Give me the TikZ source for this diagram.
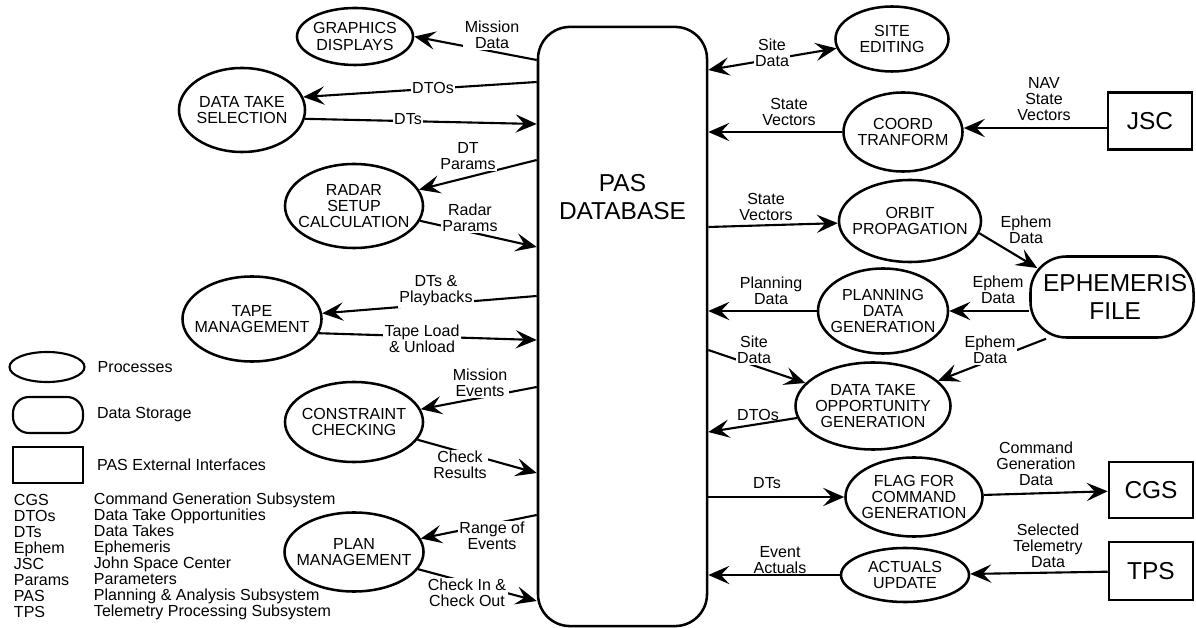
\documentclass[tikz,border=0pt]{standalone}
\usepackage{fontspec}
\setmainfont{Liberation Sans}
\usetikzlibrary{arrows.meta,positioning,shapes.geometric}
\newcommand{\lblfont}{\fontsize{11.4}{11.4}\selectfont}
\newcommand{\bigtxt}{\fontsize{17.4}{20}\selectfont}

\begin{document}
\begin{tikzpicture}[
    x=0.025cm, y=-0.025cm,
    font=\lblfont,
    proc/.style={draw, ellipse, line width=1.8pt, inner sep=0pt},
    ptext/.style={align=center, inner sep=0pt},
    store/.style={draw, line width=1.8pt, font=\bigtxt, align=center},
    ext/.style={draw, line width=1.8pt, font=\bigtxt, minimum width=2.1cm, minimum height=1.425cm},
    lbl/.style={align=center, inner sep=1pt},
    lblgap/.style={lbl, fill=white},
    arrow/.style={-{Stealth[length=15pt, width=13pt, inset=6pt]}, line width=1.5pt},
    darrow/.style={{Stealth[length=15pt, width=13pt, inset=6pt]}-{Stealth[length=15pt, width=13pt, inset=6pt]}, line width=1.5pt}
]

\useasboundingbox (0,0) rectangle (1196,628);

% database in the middle
\node[store, rounded corners=0.8cm, minimum width=4.225cm, minimum height=14.975cm] (pas) at (622.5,326.5) {};
\node[font=\bigtxt, align=center] (pastxt) at (622.5,197) {PAS\\DATABASE};

% processes on the left
\node[proc, minimum width=2.9cm, minimum height=1.425cm, label={[ptext]center:GRAPHICS\\DISPLAYS}] (gd) at (355,36.5) {};
\node[proc, minimum width=3.15cm, minimum height=2.1cm, label={[ptext]center:DATA TAKE\\SELECTION}] (dts) at (242,110) {};
\node[proc, minimum width=3.45cm, minimum height=2.1cm, label={[ptext]center:RADAR\\SETUP\\CALCULATION}] (rsc) at (354,206) {};
\node[proc, minimum width=3.475cm, minimum height=2.125cm, label={[ptext]center:TAPE\\MANAGEMENT}] (tm) at (252,319) {};
\node[proc, minimum width=3.45cm, minimum height=2.0cm, label={[ptext]center:CONSTRAINT\\CHECKING}] (cc) at (354,422) {};
\node[proc, minimum width=3.475cm, minimum height=1.975cm, label={[ptext]center:PLAN\\MANAGEMENT}] (pm) at (354,552) {};

% processes on the right
\node[proc, minimum width=2.825cm, minimum height=1.625cm, label={[ptext]center:SITE\\EDITING}] (se) at (892,39) {};
\node[proc, minimum width=2.975cm, minimum height=1.975cm, label={[ptext]center:COORD\\TRANFORM}] (ct) at (903,132) {};
\node[proc, minimum width=3.55cm, minimum height=2.05cm, label={[ptext]center:ORBIT\\PROPAGATION}] (op) at (910,221) {};
\node[proc, minimum width=3.25cm, minimum height=2.125cm, label={[ptext]center:PLANNING\\DATA\\GENERATION}] (pdg) at (883,311) {};
\node[proc, minimum width=3.875cm, minimum height=2.175cm, label={[ptext]center:DATA TAKE\\OPPORTUNITY\\GENERATION}] (dtog) at (873,406) {};
\node[proc, minimum width=3.425cm, minimum height=1.975cm, label={[ptext]center:FLAG FOR\\COMMAND\\GENERATION}] (fcg) at (914,497) {};
\node[proc, minimum width=3.2cm, minimum height=1.35cm, label={[ptext]center:ACTUALS\\UPDATE}] (au) at (905,575) {};

% ephemeris file and external interfaces
\node[store, rounded corners=0.9cm, minimum width=4.075cm, minimum height=2.025cm, label={[font=\bigtxt, align=center, xshift=0.08cm]center:EPHEMERIS\\FILE}] (ef) at (1112,297) {};
\node[ext] (jsc) at (1150,121) {JSC};
\node[ext, minimum height=1.4cm] (cgs) at (1151,490) {CGS};
\node[ext, minimum height=1.45cm] (tps) at (1151,571) {TPS};

% flows on the left
\draw[arrow] (pas.west |- 0,60) -- (gd.east);
\draw[arrow] (pas.west |- 0,82) -- (dts.12);
\draw[arrow] (dts.-8) -- (pas.west |- 0,124);
\draw[arrow] (pas.west |- 0,160) -- (rsc);
\draw[arrow] (rsc) -- (pas.west |- 0,247);
\draw[arrow] (pas.west |- 0,296) -- (tm);
\draw[arrow] (tm.-12) -- (pas.west |- 0,340);
\draw[arrow] (pas.west |- 0,387) -- (cc);
\draw[arrow] (cc) -- (pas.west |- 0,473);
\draw[arrow] (pas.west |- 0,515) -- (pm);
\draw[arrow] (pm) -- (pas.west |- 0,601);

% flows on the right
\draw[darrow] (pas.east |- 0,70) -- (se);
\draw[arrow] (ct) -- (pas.east |- ct);
\draw[arrow] (jsc.west |- 0,128) -- (ct.east |- 0,128);
\draw[arrow] (pas.east |- 0,227) -- (op);
\draw[arrow] (op.-10) -- ([xshift=0.2cm,yshift=-0.32cm]ef.north west);
\draw[arrow] (ef.west |- pdg) -- (pdg);
\draw[arrow] (pdg) -- (pas.east |- pdg);
\draw[arrow] (pas.east |- 0,350) -- (dtog);
\draw[arrow] ([xshift=0.42cm]ef.south west) -- (dtog);
\draw[arrow] (dtog) -- (pas.east |- 0,432);
\draw[arrow] (pas.east |- fcg) -- (fcg);
\draw[arrow] (fcg) -- (cgs);
\draw[arrow] (tps) -- (au);
\draw[arrow] (au) -- (pas.east |- au);

% flow labels
\node[lblgap] (l1) at (492,35) {Mission\\Data};
\node[lblgap] (l2) at (433,88) {DTOs};
\node[lblgap] (l3) at (408,119) {DTs};
\node[lblgap] (l4) at (468,156) {DT\\Params};
\node[lblgap] (l5) at (470,218) {Radar\\Params};
\node[lblgap] (l6) at (436,291) {DTs \&\\Playbacks};
\node[lblgap] (l7) at (422,339) {Tape Load\\\& Unload};
\node[lblgap] (l8) at (480,383) {Mission\\Events};
\node[lblgap] (l9) at (460,465) {Check\\Results};
\node[lblgap] (l10) at (492,536) {Range of\\Events};
\node[lblgap] (l11) at (467,593) {Check In \&\\Check Out};
\node[lblgap] (l12) at (772,53) {Site\\Data};
\node[lbl] (l13) at (789,112) {State\\Vectors};
\node[lbl] (l14) at (1044,99) {NAV\\State\\Vectors};
\node[lbl] (l15) at (766,207) {State\\Vectors};
\node[lbl] (l16) at (1026,230) {Ephem\\Data};
\node[lbl] (l17) at (998,290) {Ephem\\Data};
\node[lbl] (l18) at (771,291) {Planning\\Data};
\node[lblgap] (l19) at (754,350) {Site\\Data};
\node[lblgap] (l20) at (990,350) {Ephem\\Data};
\node[lbl] (l21) at (758,415) {DTOs};
\node[lbl] (l22) at (767,483) {DTs};
\node[lbl] (l23) at (1036,464) {Command\\Generation\\Data};
\node[lbl] (l24) at (1048,546) {Selected\\Telemetry\\Data};
\node[lbl] (l25) at (780,560) {Event\\Actuals};

% legend
\node[proc, line width=1.5pt, minimum width=1.875cm, minimum height=0.75cm] (lproc) at (47,367) {};
\node[right=0.18cm of lproc] (lproctxt) {Processes};
\node[draw, line width=1.5pt, rounded corners=0.4cm, minimum width=1.75cm, minimum height=0.9cm] (lstore) at (48,415) {};
\node[right=0.2cm of lstore] (lstoretxt) {Data Storage};
\node[draw, line width=1.5pt, minimum width=1.75cm, minimum height=0.9cm] (lext) at (48,465) {};
\node[right=0.2cm of lext] (lexttxt) {PAS External Interfaces};

\node[anchor=west, align=left] (abbr) at (9,556) {CGS\\DTOs\\DTs\\Ephem\\JSC\\Params\\PAS\\TPS};
\node[anchor=west, align=left] (abbrtxt) at (89,556) {Command Generation Subsystem\\Data Take Opportunities\\Data Takes\\Ephemeris\\John Space Center\\Parameters\\Planning \& Analysis Subsystem\\Telemetry Processing Subsystem};

\end{tikzpicture}
\end{document}
